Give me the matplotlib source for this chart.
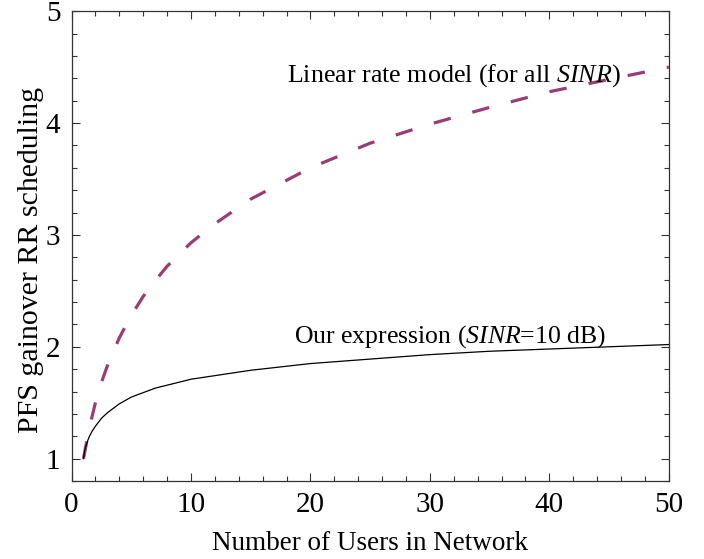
import matplotlib
matplotlib.use("Agg")
import matplotlib.pyplot as plt
from matplotlib.ticker import MultipleLocator

plt.rcParams['font.family'] = ['Liberation Serif', 'DejaVu Serif']
plt.rcParams['mathtext.fontset'] = 'custom'
plt.rcParams['mathtext.rm'] = 'Liberation Serif'
plt.rcParams['mathtext.it'] = 'Liberation Serif:italic'

# values
users_lin = [1, 1.5, 2, 2.5, 3, 4, 5, 6, 7, 8, 10, 12, 15, 20, 25, 30, 35, 40, 45, 50]
gain_lin = [1.0, 1.28, 1.5, 1.68, 1.83, 2.08, 2.28, 2.45, 2.59, 2.72, 2.93, 3.10,
            3.32, 3.60, 3.82, 3.99, 4.14, 4.28, 4.39, 4.50]
users_ours = [1, 1.1, 1.2, 1.35, 1.5, 1.75, 2, 2.5, 3, 4, 5, 7, 10, 15, 20, 25, 30, 35, 40, 45, 50]
gain_ours = [1.0, 1.07, 1.11, 1.16, 1.2, 1.25, 1.29, 1.36, 1.41, 1.49, 1.55, 1.63,
             1.71, 1.79, 1.85, 1.89, 1.93, 1.96, 1.98, 2.0, 2.02]

fig = plt.figure(figsize=(7.04, 5.59), dpi=100)
ax = fig.add_axes([0.1016, 0.1395, 0.8484, 0.8405])

ax.plot(users_lin, gain_lin, color='#993d72', lw=2.3, dashes=(5.5, 7), dash_capstyle='butt')
ax.plot(users_ours, gain_ours, color='black', lw=0.9)

ax.text(18.0, 4.42, r'Linear rate model (for all $\mathit{SINR}$)', fontsize=18.7, va='center')
ax.text(18.6, 2.09, r'Our expression ($\mathit{SINR}$=10 dB)', fontsize=18.5, va='center')

ax.set_xlim(0, 50)
ax.set_ylim(0.8, 5)
ax.xaxis.set_major_locator(MultipleLocator(10))
ax.xaxis.set_minor_locator(MultipleLocator(2))
ax.yaxis.set_major_locator(MultipleLocator(1))
ax.yaxis.set_minor_locator(MultipleLocator(0.2))
ax.tick_params(which='both', direction='in', top=True, right=True, width=0.8, colors='#333333',
               labelcolor='black')
ax.tick_params(which='major', length=6, labelsize=21, pad=8)
ax.tick_params(which='minor', length=3.5)
for s in ax.spines.values():
    s.set_linewidth(0.9)
    s.set_color('#333333')

ax.set_xlabel('Number of Users in Network', fontsize=19.5, labelpad=9)
ax.set_ylabel('PFS gainover RR scheduling', fontsize=21.5)
ax.yaxis.set_label_coords(-0.046, 0.47)

fig.savefig('out.png', dpi=100)
